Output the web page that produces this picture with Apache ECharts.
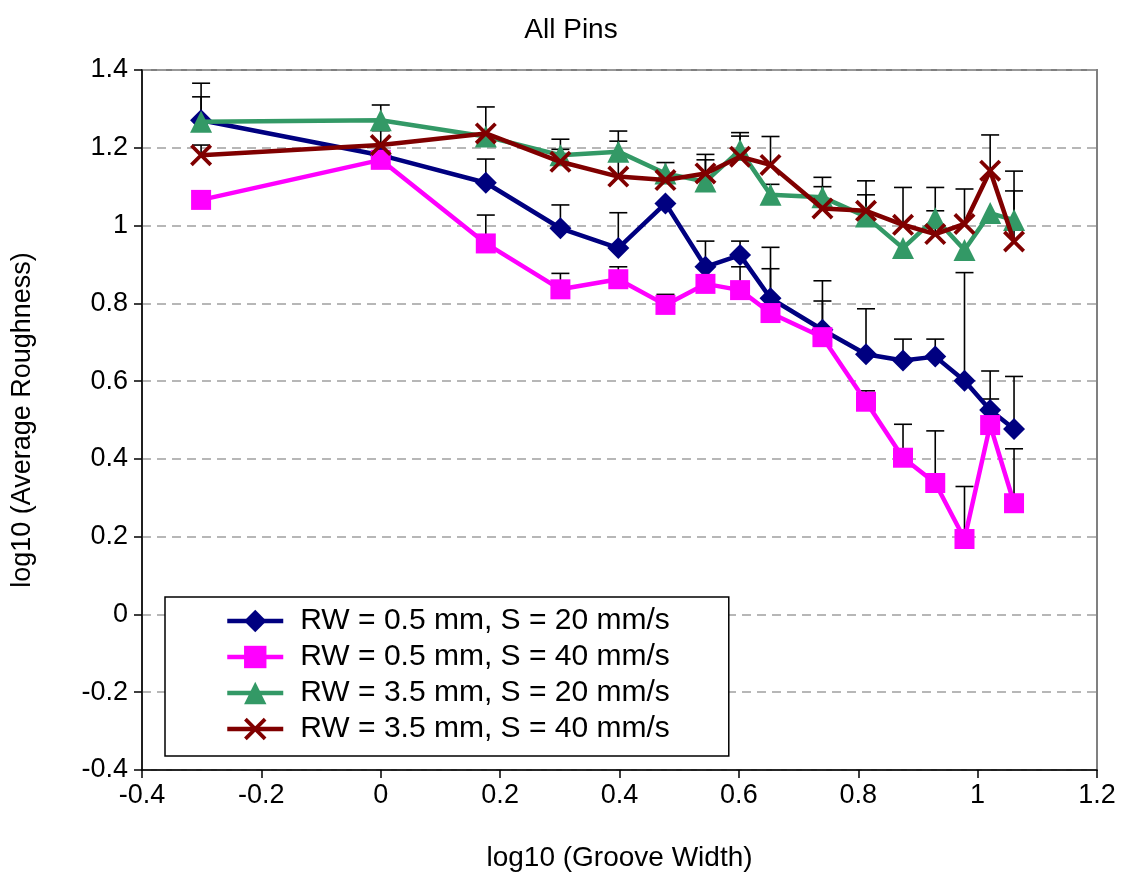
<!DOCTYPE html>
<html>
<head>
<meta charset="utf-8">
<script src="https://cdn.jsdelivr.net/npm/echarts@6/dist/echarts.min.js"></script>
<style>
html,body{margin:0;padding:0;background:#fff;}
#chart{width:1122px;height:882px;}
</style>
</head>
<body>
<div id="chart"></div>
<script>
// log10 of groove widths
const xValues = [-0.301, 0, 0.176, 0.301, 0.398, 0.477, 0.544, 0.602, 0.653, 0.740, 0.813, 0.875, 0.929, 0.978, 1.021, 1.061];

const seriesNames = [
  'RW = 0.5 mm, S = 20 mm/s',
  'RW = 0.5 mm, S = 40 mm/s',
  'RW = 3.5 mm, S = 20 mm/s',
  'RW = 3.5 mm, S = 40 mm/s'
];

const rw05s20 = [1.271, 1.181, 1.110, 0.993, 0.942, 1.057, 0.894, 0.924, 0.813, 0.732, 0.669, 0.653, 0.663, 0.601, 0.526, 0.477];
const rw05s40 = [1.066, 1.169, 0.954, 0.836, 0.862, 0.796, 0.850, 0.834, 0.775, 0.713, 0.547, 0.403, 0.338, 0.194, 0.487, 0.286];
const rw35s20 = [1.267, 1.271, 1.229, 1.181, 1.190, 1.134, 1.113, 1.194, 1.079, 1.073, 1.023, 0.942, 1.019, 0.937, 1.032, 1.014];
const rw35s40 = [1.181, 1.207, 1.237, 1.164, 1.126, 1.117, 1.134, 1.177, 1.156, 1.044, 1.038, 1.002, 0.978, 1.004, 1.141, 0.959];

// upper ends of the (plus-only) error bars; null = not visible
const rw05s20Top = [1.366, null, 1.171, 1.053, 1.033, null, 0.960, 0.960, 0.944, 0.858, 0.786, 0.708, 0.708, 0.879, 0.626, 0.612];
const rw05s40Top = [null, null, 1.027, 0.877, 0.894, 0.823, null, 0.894, 0.889, 0.806, 0.575, 0.489, 0.472, 0.329, 0.554, 0.426];
const rw35s20Top = [1.331, 1.310, null, 1.222, 1.243, 1.162, 1.169, 1.239, 1.106, 1.124, 1.115, null, 1.098, null, null, 1.140];
const rw35s40Top = [1.207, 1.244, 1.305, 1.196, 1.217, null, 1.183, 1.230, 1.229, 1.100, 1.079, 1.098, 1.038, 1.094, 1.233, 1.089];

const xTicks = {min: -0.4, max: 1.2, interval: 0.2};
const yTicks = {min: -0.4, max: 1.4, interval: 0.2};

const FONT = '"Liberation Sans", Arial, sans-serif';
const colors = ['#000080', '#FF00FF', '#339966', '#800000'];
const symbols = ['diamond', 'rect', 'triangle', 'path://M0,1.2L1.2,0L10,8.8L8.8,10ZM8.8,0L10,1.2L1.2,10L0,8.8Z'];
const symbolSizes = [22, 20, 22, 22];
const values = [rw05s20, rw05s40, rw35s20, rw35s40];
const tops = [rw05s20Top, rw05s40Top, rw35s20Top, rw35s40Top];

function pairs(arr) { return xValues.map((x, i) => [x, arr[i]]); }
function errData(arr, top) {
  const out = [];
  xValues.forEach((x, i) => { if (top[i] != null) out.push([x, arr[i], top[i]]); });
  return out;
}

function renderErr(params, api) {
  const x = api.value(0), y = api.value(1), t = api.value(2);
  const p0 = api.coord([x, y]);
  const p1 = api.coord([x, t]);
  return {
    type: 'group',
    children: [
      {type: 'line', shape: {x1: p0[0], y1: p0[1], x2: p1[0], y2: p1[1]}, style: {stroke: '#000', lineWidth: 1.6}},
      {type: 'line', shape: {x1: p1[0] - 9, y1: p1[1], x2: p1[0] + 9, y2: p1[1]}, style: {stroke: '#000', lineWidth: 1.6}}
    ]
  };
}

const series = [];
values.forEach((arr, k) => {
  series.push({
    type: 'custom',
    name: 'err' + k,
    renderItem: renderErr,
    data: errData(arr, tops[k]),
    encode: {x: 0, y: [1, 2]},
    z: 1,
    silent: true
  });
});
values.forEach((arr, k) => {
  series.push({
    type: 'line',
    name: seriesNames[k],
    data: pairs(arr),
    symbol: symbols[k],
    symbolSize: symbolSizes[k],
    showAllSymbol: true,
    lineStyle: {color: colors[k], width: 4.5},
    itemStyle: {color: colors[k], opacity: 1},
    z: 3 + k,
    animation: false
  });
});

const chart = echarts.init(document.getElementById('chart'), null, {renderer: 'canvas'});
chart.setOption({
  animation: false,
  backgroundColor: '#fff',
  title: {
    text: 'All Pins',
    left: 566, top: 11, textAlign: 'center',
    textStyle: {fontFamily: FONT, fontSize: 28, fontWeight: 'normal', color: '#000'}
  },
  grid: {
    left: 142, right: 25, top: 70, bottom: 112,
    show: true, borderColor: '#808080', borderWidth: 2, backgroundColor: '#fff'
  },
  legend: {
    data: seriesNames,
    orient: 'vertical',
    left: 165, top: 597,
    padding: [9, 59, 12, 60],
    itemWidth: 56, itemHeight: 28, itemGap: 6,
    lineStyle: {width: 4.5},
    borderColor: '#000', borderWidth: 1.5, backgroundColor: '#fff',
    textStyle: {fontFamily: FONT, fontSize: 30, color: '#000', lineHeight: 30, padding: [0, 0, 0, 12]}
  },
  xAxis: {
    type: 'value',
    min: xTicks.min, max: xTicks.max, interval: xTicks.interval,
    name: 'log10 (Groove Width)',
    nameLocation: 'middle', nameGap: 74,
    nameTextStyle: {fontFamily: FONT, fontSize: 28, color: '#000'},
    axisLine: {onZero: false, lineStyle: {color: '#000', width: 1.5}},
    axisTick: {show: true, inside: false, length: 8, lineStyle: {color: '#000', width: 1.5}},
    axisLabel: {fontFamily: FONT, fontSize: 27, color: '#000', margin: 12},
    splitLine: {show: false}
  },
  yAxis: {
    type: 'value',
    min: yTicks.min, max: yTicks.max, interval: yTicks.interval,
    name: 'log10 (Average Roughness)',
    nameLocation: 'middle', nameGap: 106, nameRotate: 90,
    nameTextStyle: {fontFamily: FONT, fontSize: 27, color: '#000'},
    axisLine: {show: true, onZero: false, lineStyle: {color: '#000', width: 1.5}},
    axisTick: {show: true, inside: false, length: 8, lineStyle: {color: '#000', width: 1.5}},
    axisLabel: {fontFamily: FONT, fontSize: 27, color: '#000', margin: 14},
    splitLine: {show: true, lineStyle: {color: '#a0a0a0', width: 1.5, type: [9, 6]}}
  },
  series: series
});
</script>
</body>
</html>
